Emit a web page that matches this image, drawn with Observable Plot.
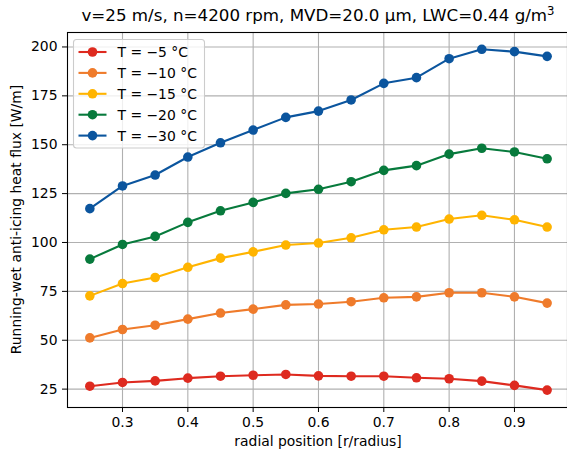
<!DOCTYPE html>
<html><head><meta charset="utf-8">
<script src="https://cdn.jsdelivr.net/npm/d3@7"></script>
<script src="https://cdn.jsdelivr.net/npm/@observablehq/plot@0.6"></script>
<style>body{margin:0;background:#fff} svg{display:block}</style>
</head><body><div id="chart"></div>
<script>
const positions = [0.25, 0.30, 0.35, 0.40, 0.45, 0.50, 0.55, 0.60, 0.65, 0.70, 0.75, 0.80, 0.85, 0.90, 0.95];
const seriesLabels = ["T = \u22125 \u00b0C", "T = \u221210 \u00b0C", "T = \u221215 \u00b0C", "T = \u221220 \u00b0C", "T = \u221230 \u00b0C"];
const fluxM5  = [26.5, 28.4, 29.2, 30.6, 31.6, 32.1, 32.5, 31.8, 31.6, 31.6, 30.8, 30.3, 29.1, 26.9, 24.5];
const fluxM10 = [51.2, 55.5, 57.7, 60.8, 63.9, 65.9, 68.1, 68.5, 69.7, 71.7, 72.2, 74.3, 74.3, 72.2, 69.0];
const fluxM15 = [72.7, 79.0, 82.1, 87.3, 92.0, 95.2, 98.7, 99.7, 102.4, 106.5, 107.9, 112.0, 113.9, 111.6, 107.9];
const fluxM20 = [91.5, 99.0, 103.1, 110.3, 116.2, 120.5, 125.1, 127.2, 131.1, 136.9, 139.3, 145.2, 148.2, 146.3, 142.8];
const fluxM30 = [117.3, 128.9, 134.5, 143.7, 151.0, 157.5, 164.0, 167.2, 172.9, 181.4, 184.3, 194.0, 198.8, 197.6, 195.2];
const seriesColors = ["#de2a1f", "#ef7b2b", "#ffb400", "#077a3c", "#0b559e"];
const xTicks = [0.3, 0.4, 0.5, 0.6, 0.7, 0.8, 0.9];
const yTicks = [25, 50, 75, 100, 125, 150, 175, 200];
const titleMain = "v=25 m/s, n=4200 rpm, MVD=20.0 \u00b5m, LWC=0.44 g/m";
const titleSup = "3";
const xLabel = "radial position [r/radius]";
const yLabel = "Running-wet anti-icing heat flux [W/m]";

const seriesValues = [fluxM5, fluxM10, fluxM15, fluxM20, fluxM30];
const data = [];
seriesValues.forEach((vals, i) => vals.forEach((v, j) => data.push({series: seriesLabels[i], x: positions[j], y: v})));

const FONT = "DejaVu Sans, sans-serif";
const W = 567, H = 454, mt = 32, mb = 47, ml = 67, mr = 0;
const R = 4.8;

const chart = Plot.plot({
  width: W, height: H,
  marginTop: mt, marginBottom: mb, marginLeft: ml, marginRight: mr,
  style: {fontFamily: FONT, fontSize: "13.9px", color: "#000", background: "#fff"},
  x: {domain: [0.2158, 0.9812]},
  y: {domain: [15.6, 207.4]},
  color: {domain: seriesLabels, range: seriesColors},
  marks: [
    Plot.gridX(xTicks, {stroke: "#b0b0b0", strokeOpacity: 1, strokeWidth: 1.1}),
    Plot.gridY(yTicks, {stroke: "#b0b0b0", strokeOpacity: 1, strokeWidth: 1.1}),
    Plot.line(data, {x: "x", y: "y", z: "series", stroke: "series", strokeWidth: 2.1}),
    Plot.dot(data, {x: "x", y: "y", fill: "series", r: R}),
    Plot.frame({stroke: "#000", strokeWidth: 1.1}),
    Plot.axisX(xTicks, {tickSize: 5, tickPadding: 5, label: null, fontSize: 13.9, tickFormat: d => String(d)}),
    Plot.axisY(yTicks, {tickSize: 5, tickPadding: 5, label: null, fontSize: 13.9})
  ]
});

const svg = d3.select(chart);
// title
const t = svg.append("text").attr("x", (ml + 569) / 2).attr("y", 21).attr("text-anchor", "middle")
  .attr("font-family", FONT).attr("font-size", 16.7).attr("fill", "#000");
t.append("tspan").text(titleMain);
t.append("tspan").attr("dy", -6).attr("font-size", 11.7).text(titleSup);
// axis labels
svg.append("text").attr("x", (ml + 569) / 2).attr("y", 446).attr("text-anchor", "middle")
  .attr("font-family", FONT).attr("font-size", 13.9).attr("fill", "#000").text(xLabel);
svg.append("text").attr("transform", `translate(21,${(mt + H - mb) / 2}) rotate(-90)`).attr("text-anchor", "middle")
  .attr("font-family", FONT).attr("font-size", 13.9).attr("fill", "#000").text(yLabel);
// legend
const lg = svg.append("g");
lg.append("rect").attr("x", 73.5).attr("y", 39.5).attr("width", 131).attr("height", 108.5).attr("rx", 3)
  .attr("fill", "#fff").attr("fill-opacity", 0.8).attr("stroke", "#ccc").attr("stroke-width", 1.1);
seriesLabels.forEach((lab, i) => {
  const cy = 52 + i * 20.9;
  lg.append("line").attr("x1", 78.5).attr("x2", 106.5).attr("y1", cy).attr("y2", cy)
    .attr("stroke", seriesColors[i]).attr("stroke-width", 2.1);
  lg.append("circle").attr("cx", 92.5).attr("cy", cy).attr("r", R).attr("fill", seriesColors[i]);
  lg.append("text").attr("x", 117.5).attr("y", cy + 5).attr("text-anchor", "start")
    .attr("font-family", FONT).attr("font-size", 13.9).attr("fill", "#000").text(lab);
});

document.getElementById("chart").appendChild(chart);
</script>
</body></html>
